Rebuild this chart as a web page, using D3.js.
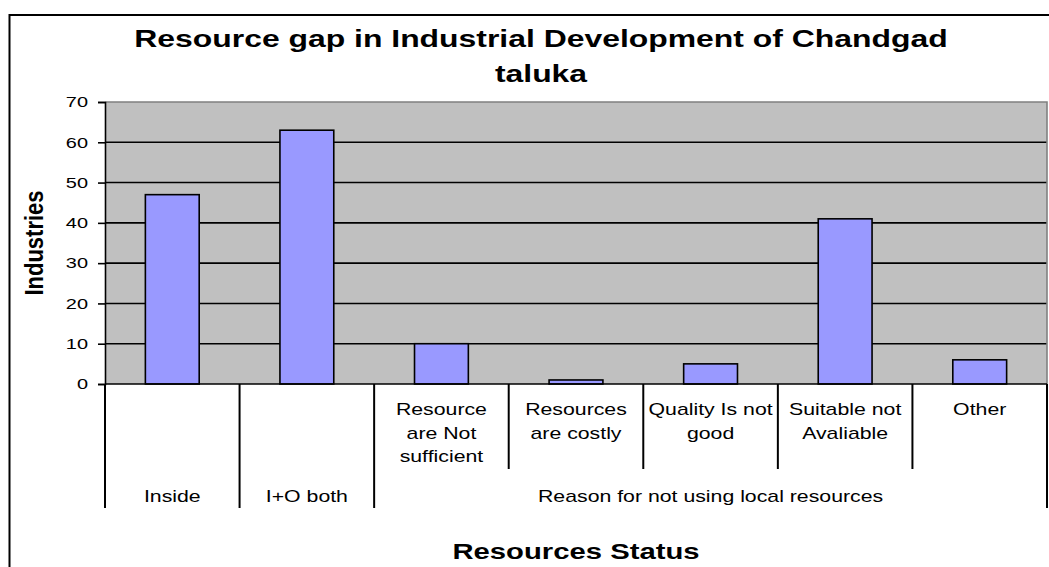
<!DOCTYPE html>
<html>
<head>
<meta charset="utf-8">
<script src="https://cdn.jsdelivr.net/npm/d3@7"></script>
<style>
  html, body { margin: 0; padding: 0; background: #fff; }
  svg { display: block; font-family: "Liberation Sans", Arial, sans-serif; }
</style>
</head>
<body>
<svg id="chart" width="1049" height="567"></svg>
<script>
// data
var categories = ["Inside", "I+O both", "Resource are Not sufficient", "Resources are costly",
                  "Quality Is not good", "Suitable not Avaliable", "Other"];
var values = [47, 63, 10, 1, 5, 41, 6];
var catLines = [[], [], ["Resource", "are Not", "sufficient"], ["Resources", "are costly"],
                ["Quality Is not", "good"], ["Suitable not", "Avaliable"], ["Other"]];
var groupLabels = ["Inside", "I+O both", "Reason for not using local resources"];
var groupSpans = [[0, 0], [1, 1], [2, 6]];
var yTicks = [0, 10, 20, 30, 40, 50, 60, 70];

var sx = 1.33; // the source picture is stretched sideways
var svg = d3.select("#chart");
var plotL = 105, plotR = 1047, plotT = 102, plotB = 384;

var x = d3.scaleBand().domain(categories).range([plotL, plotR]);
var y = d3.scaleLinear().domain([0, 70]).range([plotB, plotT]);

// outer frame
svg.append("rect")
  .attr("x", 9.5).attr("y", 15).attr("width", 1070).attr("height", 600)
  .attr("fill", "none").attr("stroke", "#000").attr("stroke-width", 2);

function stretchText(g, tx, ty, txt, size, weight, anchor, k) {
  g.append("g")
    .attr("transform", "translate(" + tx + "," + ty + ") scale(" + (k || sx) + ",1)")
    .append("text")
    .attr("text-anchor", anchor || "middle")
    .attr("font-size", size)
    .attr("font-weight", weight || "normal")
    .attr("fill", "#000")
    .text(txt);
}

// title
stretchText(svg, 541, 46.5, "Resource gap in Industrial Development of Chandgad", 24, "bold");
stretchText(svg, 541, 81.5, "taluka", 24, "bold");

// plot area
svg.append("rect")
  .attr("x", plotL).attr("y", plotT).attr("width", plotR - plotL).attr("height", plotB - plotT)
  .attr("fill", "#c0c0c0");

// gridlines
svg.append("g").selectAll("line")
  .data(yTicks.filter(function(d){ return d > 0 && d < 70; }))
  .enter().append("line")
  .attr("x1", plotL).attr("x2", plotR)
  .attr("y1", function(d){ return y(d); }).attr("y2", function(d){ return y(d); })
  .attr("stroke", "#000").attr("stroke-width", 1.6);

// plot border top/right in grey
svg.append("path")
  .attr("d", "M" + plotL + "," + plotT + "H" + plotR + "V" + plotB)
  .attr("fill", "none").attr("stroke", "#808080").attr("stroke-width", 1.6);

// bars
var bw = x.bandwidth() * 0.4;
svg.append("g").selectAll("rect")
  .data(values)
  .enter().append("rect")
  .attr("x", function(d, i){ return x(categories[i]) + (x.bandwidth() - bw) / 2; })
  .attr("y", function(d){ return y(d); })
  .attr("width", bw)
  .attr("height", function(d){ return plotB - y(d); })
  .attr("fill", "#9999ff").attr("stroke", "#000").attr("stroke-width", 1.6);

// y axis
var yAxis = svg.append("g")
  .attr("transform", "translate(" + plotL + ",0)")
  .call(d3.axisLeft(y).tickValues(yTicks).tickSize(7).tickPadding(10));
yAxis.select(".domain").attr("stroke", "#000").attr("stroke-width", 1.6);
yAxis.selectAll(".tick line").attr("stroke", "#000").attr("stroke-width", 1.6);
yAxis.selectAll(".tick text")
  .attr("font-size", 15).attr("font-family", "Liberation Sans, Arial, sans-serif").attr("fill", "#000")
  .attr("x", 0)
  .attr("transform", "translate(-17,0) scale(" + sx + ",1)");

// x axis line
svg.append("line")
  .attr("x1", plotL).attr("x2", plotR).attr("y1", plotB).attr("y2", plotB)
  .attr("stroke", "#000").attr("stroke-width", 1.6);

// category separators: short inside a group, long between groups
var groupOf = categories.map(function(c, i){
  return groupSpans.findIndex(function(s){ return i >= s[0] && i <= s[1]; });
});
var seps = d3.range(categories.length + 1).map(function(i){
  var inner = i > 0 && i < categories.length && groupOf[i - 1] === groupOf[i];
  return { x: i < categories.length ? x(categories[i]) : plotR, end: inner ? 469 : 508 };
});
svg.append("g").selectAll("line")
  .data(seps)
  .enter().append("line")
  .attr("x1", function(d){ return d.x; }).attr("x2", function(d){ return d.x; })
  .attr("y1", plotB).attr("y2", function(d){ return d.end; })
  .attr("stroke", "#000").attr("stroke-width", 2);

// first level labels
catLines.forEach(function(lines, i){
  var cx = x(categories[i]) + x.bandwidth() / 2;
  lines.forEach(function(t, j){
    stretchText(svg, cx, 415 + j * 23.5, t, 16);
  });
});

// second level labels
groupLabels.forEach(function(g, i){
  var s = groupSpans[i];
  var cx = (x(categories[s[0]]) + x(categories[s[1]]) + x.bandwidth()) / 2;
  stretchText(svg, cx, 502, g, 16);
});

// axis titles
stretchText(svg, 576, 559, "Resources Status", 22, "bold");
svg.append("g")
  .attr("transform", "translate(43," + ((plotT + plotB) / 2) + ") scale(1.15,1) rotate(-90)")
  .append("text")
  .attr("text-anchor", "middle")
  .attr("font-size", 22).attr("font-weight", "bold")
  .text("Industries");
</script>
</body>
</html>
